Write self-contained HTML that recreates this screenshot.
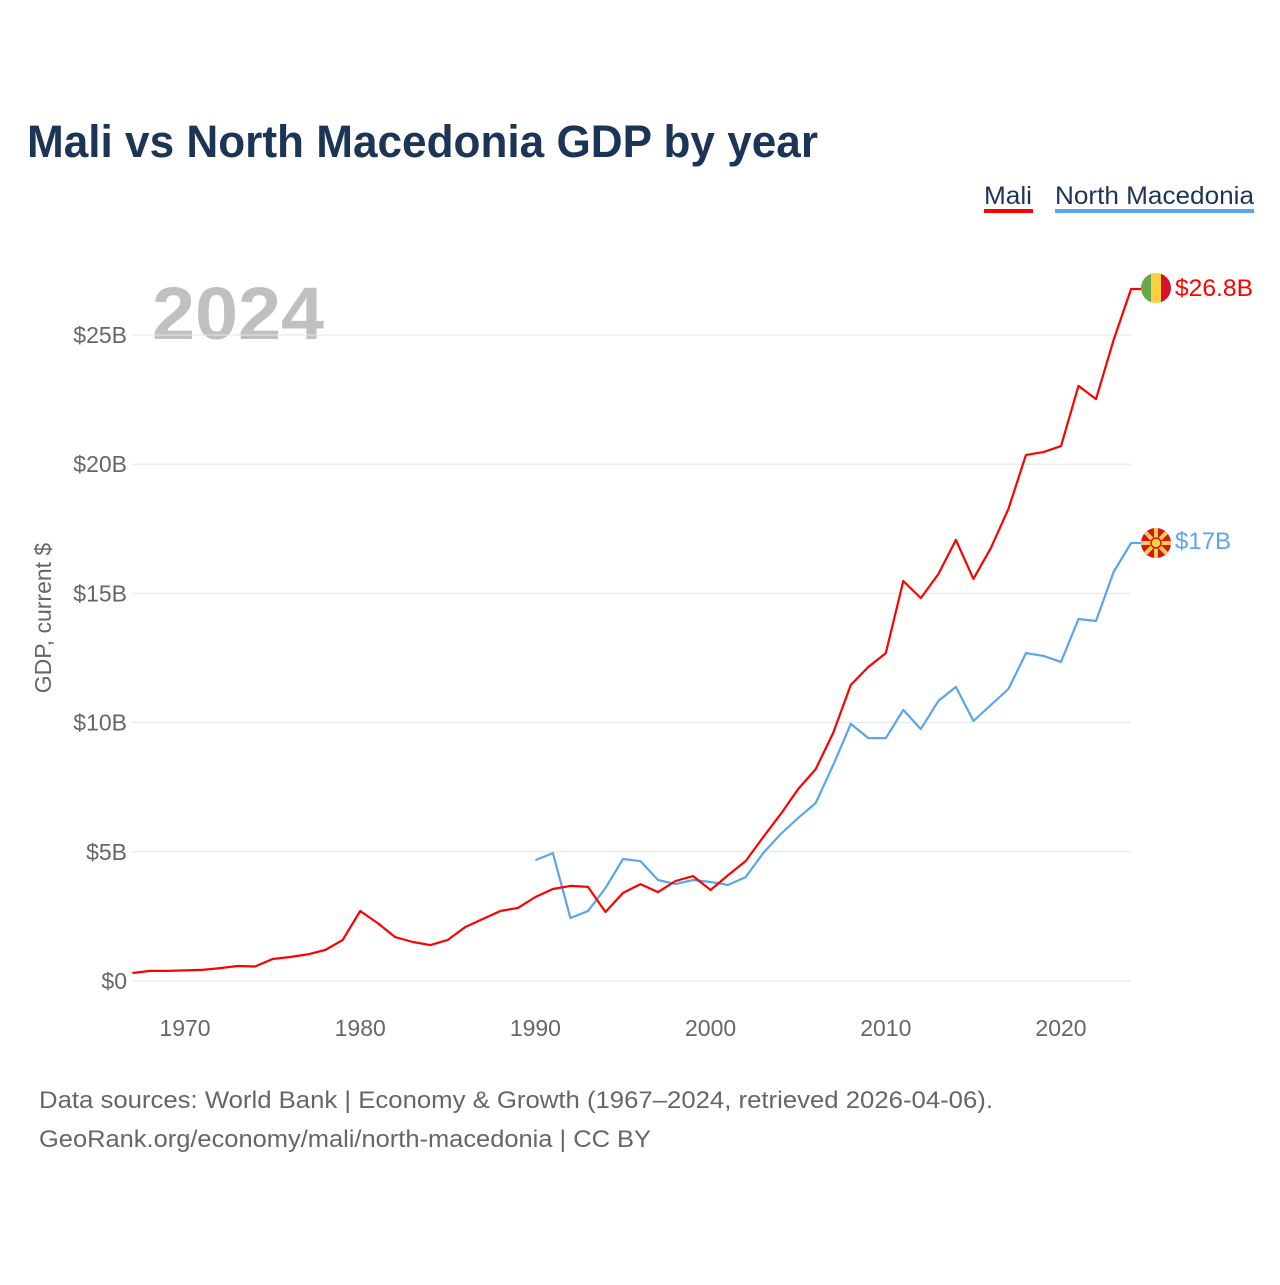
<!DOCTYPE html>
<html><head><meta charset="utf-8"><style>
body{margin:0;background:#fff;font-family:"Liberation Sans",sans-serif}
svg text{font-family:"Liberation Sans",sans-serif}
</style></head><body>
<svg width="1280" height="1280" viewBox="0 0 1280 1280" xmlns="http://www.w3.org/2000/svg">
<text x="27" y="157" font-size="45" font-weight="bold" fill="#1c3456" textLength="791" lengthAdjust="spacingAndGlyphs">Mali vs North Macedonia GDP by year</text>
<g><text x="984" y="204" font-size="25" fill="#1c3456" textLength="48" lengthAdjust="spacingAndGlyphs">Mali</text><rect x="984" y="209" width="49" height="4" fill="#ff0000"/></g>
<g><text x="1055" y="204" font-size="25" fill="#1c3456" textLength="199" lengthAdjust="spacingAndGlyphs">North Macedonia</text><rect x="1055" y="209" width="199" height="4" fill="#5aa5ec"/></g>
<text x="152" y="339" font-size="74" font-weight="bold" fill="#c0c0c0" textLength="172" lengthAdjust="spacingAndGlyphs">2024</text>
<text transform="translate(51,618) rotate(-90)" text-anchor="middle" font-size="23" fill="#666">GDP, current $</text>
<g id="grid"></g><g id="xt"></g><g id="lines"></g>
<g>
<clipPath id="c1"><circle cx="1156" cy="288" r="15"/></clipPath>
<g clip-path="url(#c1)"><rect x="1141" y="273" width="10" height="30" fill="#6aa84f"/><rect x="1151" y="273" width="10" height="30" fill="#fcd13f"/><rect x="1161" y="273" width="10" height="30" fill="#d8102a"/></g>
<text x="1175" y="296" font-size="24" fill="#ff0000" textLength="78" lengthAdjust="spacingAndGlyphs">$26.8B</text></g>
<g>
<clipPath id="c2"><circle cx="1156" cy="543" r="15"/></clipPath>
<g clip-path="url(#c2)"><rect x="1141" y="528" width="30" height="30" fill="#d8102a"/>
<g stroke="#fcd13f" stroke-width="4"><line x1="1141" y1="543" x2="1171" y2="543"/><line x1="1156" y1="528" x2="1156" y2="558"/><line x1="1141" y1="528" x2="1171" y2="558"/><line x1="1171" y1="528" x2="1141" y2="558"/></g>
<circle cx="1156" cy="543" r="5" fill="#fcd13f" stroke="#d8102a" stroke-width="1.5"/></g>
<text x="1175" y="549" font-size="24" fill="#5aa5ec">$17B</text></g>
<text x="39" y="1108" font-size="24" fill="#666" textLength="954" lengthAdjust="spacingAndGlyphs">Data sources: World Bank | Economy &amp; Growth (1967–2024, retrieved 2026-04-06).</text>
<text x="39" y="1147" font-size="24" fill="#666" textLength="612" lengthAdjust="spacingAndGlyphs">GeoRank.org/economy/mali/north-macedonia | CC BY</text>
</svg>
<script>
const yTicks=[0,5,10,15,20,25];
const yTickLabels=["$0","$5B","$10B","$15B","$20B","$25B"];
const xTicks=[1970,1980,1990,2000,2010,2020];
const maliYears=[1967,1968,1969,1970,1971,1972,1973,1974,1975,1976,1977,1978,1979,1980,1981,1982,1983,1984,1985,1986,1987,1988,1989,1990,1991,1992,1993,1994,1995,1996,1997,1998,1999,2000,2001,2002,2003,2004,2005,2006,2007,2008,2009,2010,2011,2012,2013,2014,2015,2016,2017,2018,2019,2020,2021,2022,2023,2024];
const maliGDP=[0.31,0.39,0.39,0.41,0.43,0.50,0.58,0.56,0.85,0.93,1.03,1.20,1.59,2.71,2.24,1.70,1.51,1.39,1.59,2.09,2.40,2.71,2.83,3.25,3.56,3.68,3.64,2.67,3.41,3.75,3.44,3.87,4.06,3.52,4.10,4.64,5.57,6.46,7.43,8.20,9.60,11.46,12.15,12.69,15.48,14.82,15.75,17.07,15.56,16.76,18.27,20.36,20.47,20.70,23.03,22.52,24.81,26.78];
const nmkYears=[1990,1991,1992,1993,1994,1995,1996,1997,1998,1999,2000,2001,2002,2003,2004,2005,2006,2007,2008,2009,2010,2011,2012,2013,2014,2015,2016,2017,2018,2019,2020,2021,2022,2023,2024];
const nmkGDP=[4.68,4.95,2.44,2.71,3.60,4.72,4.64,3.91,3.75,3.91,3.83,3.72,4.02,4.95,5.69,6.31,6.89,8.36,9.95,9.40,9.40,10.49,9.75,10.84,11.38,10.06,10.68,11.30,12.69,12.58,12.35,14.01,13.93,15.83,16.95];
const NS="http://www.w3.org/2000/svg";
const X=y=>185+(y-1970)*17.52;
const Y=v=>981-v*25.84;
function mk(t,a,p){const e=document.createElementNS(NS,t);for(const k in a)e.setAttribute(k,a[k]);p.appendChild(e);return e;}
const grid=document.getElementById('grid');
yTicks.forEach((v,i)=>{
 const l=mk('line',{x1:132,x2:1131,y1:Y(v),y2:Y(v),stroke:'#e6e6e6','stroke-width':1},grid);
 
 
 const t=mk('text',{x:127,y:Y(v)+8,'text-anchor':'end','font-size':23,fill:'#666'},grid);
 t.textContent=yTickLabels[i];
 
 
});
const xt=document.getElementById('xt');
xTicks.forEach(y=>{
 const t=mk('text',{x:X(y),y:1036,'text-anchor':'middle','font-size':23,fill:'#666'},xt);
 t.textContent=y;
 
 
});
const lines=document.getElementById('lines');
function series(xs,vs,col,name){
 let d=xs.map((y,i)=>(i?'L':'M')+X(y).toFixed(1)+' '+Y(vs[i]).toFixed(1)).join(' ');
 d+=' L 1141 '+Y(vs[vs.length-1]).toFixed(1);
 const p=mk('path',{d:d,fill:'none',stroke:col,'stroke-width':2.2,'stroke-linejoin':'round'},lines);
 
 
}
series(nmkYears,nmkGDP,'#5aa5ec','north-macedonia-line');
series(maliYears,maliGDP,'#ff0000','mali-line');
</script>
</body></html>
